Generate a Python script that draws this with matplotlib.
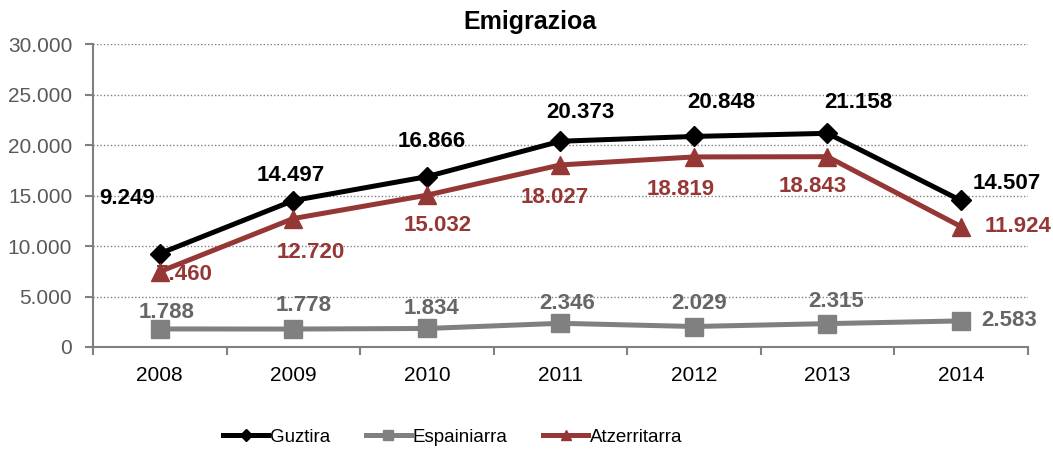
import numpy as np
import matplotlib.pyplot as plt
from matplotlib.ticker import FuncFormatter

plt.rcParams['font.family'] = ['Liberation Sans', 'DejaVu Sans']

urteak = ['2008', '2009', '2010', '2011', '2012', '2013', '2014']
guztira = [9249, 14497, 16866, 20373, 20848, 21158, 14507]
espainiarra = [1788, 1778, 1834, 2346, 2029, 2315, 2583]
atzerritarra = [7460, 12720, 15032, 18027, 18819, 18843, 11924]

# etiketen desplazamenduak (pixeletan)
off_g = [(-33, 55), (-3, 25), (5, 35), (20, 29), (27, 34), (31, 31), (46, 17)]
off_e = [(7, 16), (10, 24), (5, 20), (7, 20), (5, 23), (9, 22), (48, 0)]
off_a = [(24, -3), (17, -34), (11, -30), (-6, -33), (-13, -33), (-15, -30), (57, 0)]

def puntuak(v, pos=None):
    return f'{int(v):,}'.replace(',', '.')

fig = plt.figure(figsize=(10.53, 4.51), dpi=100)
ax = fig.add_axes([0.0883, 0.2306, 0.8877, 0.6718])
x = np.arange(len(urteak))

serieak = [
    ('Guztira', guztira, '#000000', '#000000', 'D', 10, off_g),
    ('Espainiarra', espainiarra, '#808080', '#666666', 's', 13, off_e),
    ('Atzerritarra', atzerritarra, '#953735', '#953735', '^', 13, off_a),
]
for izena, y, kolor, tkolor, mk, ms, offs in serieak:
    ax.plot(x, y, color=kolor, lw=3.6, marker=mk, ms=ms, label=izena, zorder=3)
    for xi, yi, (dx, dy) in zip(x, y, offs):
        ax.annotate(puntuak(yi), (xi, yi), xytext=(dx, dy), textcoords='offset pixels',
                    ha='center', va='center', fontsize=16, fontweight='bold',
                    color=tkolor, zorder=4)

ax.set_xlim(-0.5, 6.5)
ax.set_ylim(0, 30000)
ax.set_yticks(np.arange(0, 30001, 5000))
ax.yaxis.set_major_formatter(FuncFormatter(puntuak))
ax.set_xticks(np.arange(-0.5, 7, 1))
ax.set_xticklabels([])
ax.set_xticks(x, minor=True)
ax.set_xticklabels(urteak, minor=True)
ax.tick_params(axis='x', which='minor', length=0, pad=14, labelsize=15, labelcolor='black')
ax.tick_params(axis='x', which='major', length=6, color='#808080', width=1.5)
ax.tick_params(axis='y', length=6, color='#808080', width=1.5, labelsize=15,
               labelcolor='#595959', pad=9)
ax.grid(axis='y', linestyle=(0, (1, 1.5)), color='#808080', lw=1)
ax.set_axisbelow(True)
for s in ['top', 'right']:
    ax.spines[s].set_visible(False)
for s in ['left', 'bottom']:
    ax.spines[s].set_color('#808080')
    ax.spines[s].set_linewidth(1.5)

fig.text(0.503, 1 - 22 / 451, 'Emigrazioa', ha='center', va='center',
         fontsize=18, fontweight='bold')

leg = fig.legend(loc='center', bbox_to_anchor=(0.43, 1 - 437 / 451), ncol=3,
                 frameon=False, fontsize=13.5, handlelength=2.4, handletextpad=0.1,
                 columnspacing=1.9, markerscale=0.6)

fig.savefig('out.png', dpi=100)
